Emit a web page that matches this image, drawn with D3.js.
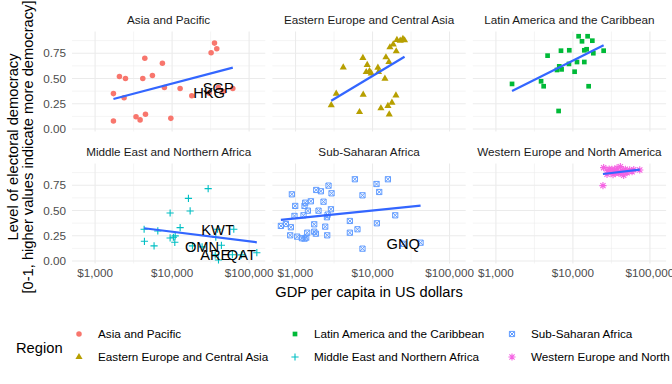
<!DOCTYPE html>
<html>
<head>
<meta charset="utf-8">
<script src="https://cdn.jsdelivr.net/npm/d3@7"></script>
<style>
  body { margin: 0; background: #fff; }
  svg { display: block; font-family: "Liberation Sans", Arial, sans-serif; }
</style>
</head>
<body>
<div id="chart"></div>
<script>
// regions, in facet / legend order
var regions = ["Asia and Pacific", "Eastern Europe and Central Asia", "Latin America and the Caribbean",
  "Middle East and Northern Africa", "Sub-Saharan Africa", "Western Europe and North America"];
var regionColors = ["#F8766D", "#B79F00", "#00BA38", "#00BFC4", "#619CFF", "#F564E3"];
var regionShapes = ["circle", "triangle", "square", "plus", "squarex", "asterisk"];

// [gdp per capita, electoral democracy]
var asiaPoints = [[1730,0.35],[2070,0.52],[2480,0.50],[2380,0.31],[1730,0.08],[3400,0.12],[3840,0.09],
  [4510,0.145],[4160,0.50],[4420,0.70],[5550,0.53],[7480,0.65],[7940,0.41],[9620,0.105],[12700,0.40],
  [18000,0.33],[32100,0.755],[35500,0.85],[38000,0.795],[46300,0.37],[61400,0.40],[30200,0.355],[39800,0.41]];
var eeuPoints = [[2910,0.235],[3380,0.35],[4170,0.61],[6780,0.168],[7500,0.703],[7570,0.34],[8530,0.634],
  [8280,0.564],[9140,0.574],[9620,0.551],[11750,0.607],[11970,0.564],[12850,0.205],[14490,0.498],[14930,0.71],
  [16330,0.663],[15850,0.228],[16480,0.145],[17870,0.26],[20140,0.333],[16830,0.809],[18580,0.838],
  [20320,0.769],[20750,0.881],[22910,0.874],[24830,0.891],[26060,0.878]];
var lacPoints = [[1620,0.446],[3860,0.472],[4170,0.423],[4690,0.726],[6520,0.178],[6210,0.584],[6650,0.62],
  [7130,0.59],[7000,0.775],[8970,0.779],[8890,0.644],[10520,0.567],[11300,0.663],[11860,0.918],[13120,0.868],
  [14060,0.779],[15070,0.789],[14060,0.663],[15520,0.918],[16000,0.423],[17870,0.874],[18410,0.75],[25060,0.775]];
var menaPoints = [[4370,0.195],[4330,0.314],[5830,0.149],[6520,0.297],[9420,0.475],[9420,0.228],[10400,0.235],
  [10840,0.185],[10960,0.248],[12710,0.33],[16290,0.62],[17140,0.495],[18370,0.149],[29380,0.716],[36900,0.235],
  [40000,0.01],[43650,0.155],[63240,0.314],[60670,0.062],[125900,0.082],[38900,0.314],[24500,0.14],
  [36300,0.06],[79400,0.06]];
var ssaPoints = [[646,0.347],[750,0.366],[871,0.334],[853,0.254],[897,0.66],[991,0.545],[970,0.446],[1052,0.241],
  [1211,0.225],[1309,0.221],[1377,0.231],[1271,0.452],[1309,0.545],[1337,0.577],[1449,0.498],[1419,0.28],
  [1585,0.591],[1750,0.363],[1750,0.29],[1841,0.27],[1858,0.703],[1991,0.498],[2138,0.69],[2312,0.587],
  [2432,0.34],[2582,0.254],[2559,0.433],[2685,0.746],[2884,0.512],[2938,0.67],[2612,0.459],[5080,0.396],
  [5080,0.28],[5900,0.809],[6380,0.314],[7410,0.65],[7410,0.122],[11270,0.762],[11400,0.373],[12220,0.683],
  [15850,0.809],[19720,0.452],[42070,0.181],[25100,0.17]];
var weuPoints = [[25060,0.924],[24550,0.746],[27730,0.858],[30620,0.881],[33190,0.855],[34510,0.901],
  [37410,0.921],[39720,0.868],[41300,0.934],[43450,0.894],[45600,0.848],[47970,0.908],[50470,0.874],
  [54580,0.901],[58610,0.884],[36640,0.881],[32210,0.908],[61660,0.904],[73790,0.901],[28580,0.894],
  [41690,0.87],[48980,0.89],[35480,0.87],[29510,0.91]];
var regionPoints = [asiaPoints, eeuPoints, lacPoints, menaPoints, ssaPoints, weuPoints];

// linear fit (log gdp) start / end, per region
var fitLines = [[[1730,0.297],[61400,0.607]], [[2910,0.28],[26060,0.715]], [[1620,0.376],[25060,0.829]],
  [[4330,0.324],[125900,0.185]], [[646,0.406],[42070,0.548]], [[24550,0.861],[73790,0.904]]];

// labelled countries: [region index, code, gdp, democracy]
var countryLabels = [[0,"HKG",30200,0.355],[0,"SGP",39800,0.41],[3,"KWT",38900,0.314],[3,"OMN",24500,0.14],
  [3,"ARE",36300,0.06],[3,"QAT",79400,0.06],[4,"GNQ",25100,0.17]];

var xTicks = [1000, 10000, 100000];
var xMinor = [Math.pow(10, 3.5), Math.pow(10, 4.5)];
var yTicks = [0, 0.25, 0.5, 0.75];
var yMinor = [0.125, 0.375, 0.625, 0.875];

var width = 672, height = 384;
var panelW = 193.3, panelH = 100, colStep = 200.4;
var panelLeft = 72, rowTops = [31.5, 163.5];

var svg = d3.select("#chart").append("svg").attr("width", width).attr("height", height);

var x = d3.scaleLog().domain([Math.pow(10, 2.70), Math.pow(10, 5.21)]).range([0, panelW]);
var y = d3.scaleLinear().domain([-0.025, 0.965]).range([panelH, 0]);
var fmtDollar = function(d) { return "$" + d3.format(",")(d); };

function symbolPath(shape) {
  if (shape == "circle") return d3.symbol(d3.symbolCircle, 24)();
  if (shape == "triangle") return d3.symbol(d3.symbolTriangle, 22)();
  if (shape == "square") return d3.symbol(d3.symbolSquare, 22)();
  if (shape == "plus") return "M-3.6,0H3.6M0,-3.6V3.6";
  if (shape == "squarex") return "M-2.6,-2.6H2.6V2.6H-2.6ZM-2.6,-2.6L2.6,2.6M-2.6,2.6L2.6,-2.6";
  // asterisk
  return "M-3.6,0H3.6M0,-3.6V3.6M-2.6,-2.6L2.6,2.6M-2.6,2.6L2.6,-2.6";
}
function isFilled(shape) { return shape == "circle" || shape == "triangle" || shape == "square"; }

function drawSymbol(g, shape, color, tx, ty) {
  var p = g.append("path").attr("d", symbolPath(shape)).attr("transform", "translate(" + tx + "," + ty + ")");
  if (isFilled(shape)) p.attr("fill", color);
  else p.attr("fill", "none").attr("stroke", color).attr("stroke-width", shape == "squarex" ? 1 : 1.1);
}

regions.forEach(function(region, i) {
  var col = i % 3, row = Math.floor(i / 3);
  var g = svg.append("g").attr("transform", "translate(" + (panelLeft + col * colStep) + "," + rowTops[row] + ")");

  // grid
  g.selectAll(".ymin").data(yMinor).enter().append("line")
    .attr("x1", 0).attr("x2", panelW).attr("y1", y).attr("y2", y)
    .attr("stroke", "#ebebeb").attr("stroke-width", 0.55);
  g.selectAll(".xmin").data(xMinor).enter().append("line")
    .attr("x1", x).attr("x2", x).attr("y1", 0).attr("y2", panelH)
    .attr("stroke", "#ebebeb").attr("stroke-width", 0.55);
  g.selectAll(".ymaj").data(yTicks).enter().append("line")
    .attr("x1", 0).attr("x2", panelW).attr("y1", y).attr("y2", y)
    .attr("stroke", "#ebebeb").attr("stroke-width", 1.1);
  g.selectAll(".xmaj").data(xTicks).enter().append("line")
    .attr("x1", x).attr("x2", x).attr("y1", 0).attr("y2", panelH)
    .attr("stroke", "#ebebeb").attr("stroke-width", 1.1);

  // strip title
  g.append("text").attr("x", panelW / 2).attr("y", -8).attr("text-anchor", "middle")
    .attr("font-size", "11.7px").attr("fill", "#1a1a1a").text(region);

  // y labels on left column
  if (col == 0) {
    g.selectAll(".ylab").data(yTicks).enter().append("text")
      .attr("x", -6).attr("y", y).attr("dy", "0.35em").attr("text-anchor", "end")
      .attr("font-size", "11.7px").attr("fill", "#4d4d4d").text(d3.format(".2f"));
  }
  // x labels on bottom row
  if (row == 1) {
    g.selectAll(".xlab").data(xTicks).enter().append("text")
      .attr("x", x).attr("y", panelH + 13).attr("text-anchor", "middle")
      .attr("font-size", "11.7px").attr("fill", "#4d4d4d").text(fmtDollar);
  }

  // points
  regionPoints[i].forEach(function(p) {
    drawSymbol(g, regionShapes[i], regionColors[i], x(p[0]), y(p[1]));
  });

  // lm fit
  g.append("path").datum(fitLines[i])
    .attr("d", d3.line().x(function(d) { return x(d[0]); }).y(function(d) { return y(d[1]); }))
    .attr("fill", "none").attr("stroke", "#3366FF").attr("stroke-width", 2.2);

  // country labels
  countryLabels.filter(function(c) { return c[0] == i; }).forEach(function(c) {
    g.append("text").attr("x", x(c[2])).attr("y", y(c[3])).attr("dy", "0.36em")
      .attr("text-anchor", "middle").attr("font-size", "14.7px").attr("fill", "#000").text(c[1]);
  });
});

// axis titles
svg.append("text").attr("x", 369).attr("y", 297).attr("text-anchor", "middle")
  .attr("font-size", "14.7px").attr("fill", "#000").text("GDP per capita in US dollars");
var yt = svg.append("text").attr("transform", "translate(0,147) rotate(-90)").attr("text-anchor", "middle")
  .attr("font-size", "14.7px").attr("fill", "#000");
yt.append("tspan").attr("x", 0).attr("y", 18).text("Level of electoral democracy");
yt.append("tspan").attr("x", 0).attr("y", 33).text("[0-1, higher values indicate more democracy]");

// legend
svg.append("text").attr("x", 16).attr("y", 353).attr("font-size", "14.7px").attr("fill", "#000").text("Region");
var legX = [79, 295, 512], legY = [334, 357];
regions.forEach(function(region, i) {
  var col = Math.floor(i / 2), row = i % 2;
  var lg = svg.append("g");
  drawSymbol(lg, regionShapes[i], regionColors[i], legX[col], legY[row]);
  lg.append("text").attr("x", legX[col] + 19).attr("y", legY[row]).attr("dy", "0.35em")
    .attr("font-size", "11.7px").attr("fill", "#000").text(region);
});
</script>
</body>
</html>
